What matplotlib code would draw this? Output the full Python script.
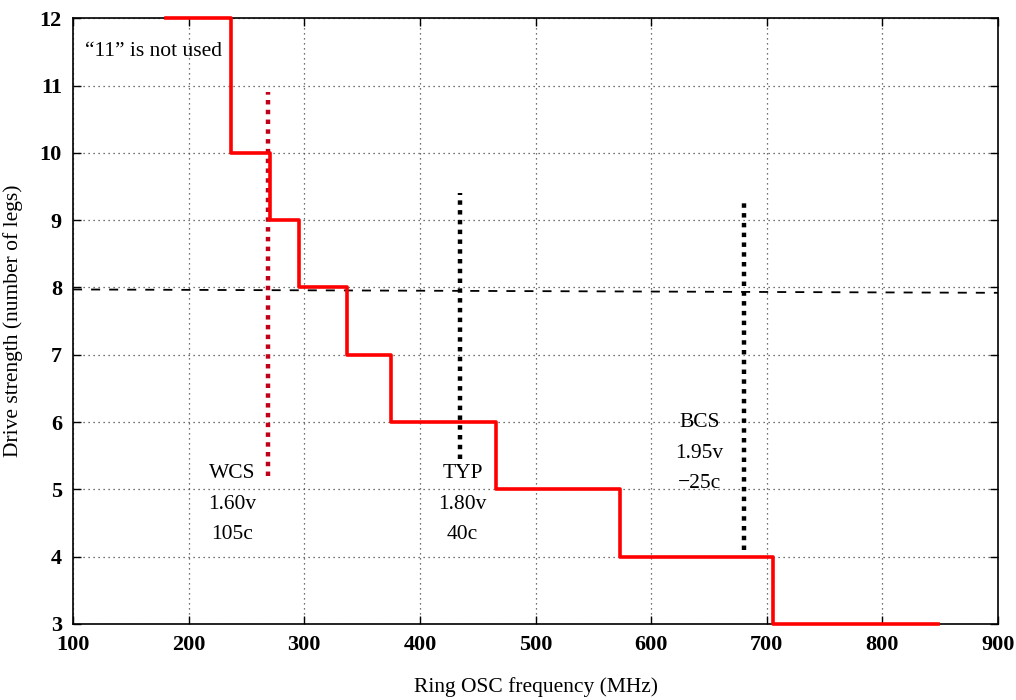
import matplotlib
matplotlib.use("Agg")
import matplotlib.pyplot as plt

# step curve: edges in MHz and drive strength for each interval
step_edges = [180, 237, 270, 295, 337, 375, 466, 573, 705, 848]
step_levels = [12, 10, 9, 8, 7, 6, 5, 4, 3]

# corner markers (x, y range)
wcs_x, wcs_y = 269, (5.2, 10.9)
typ_x, typ_y = 435, (5.45, 9.4)
bcs_x, bcs_y = 680, (4.1, 9.3)
ref_level = [7.97, 7.92]
ref_x = [100, 900]

xticks = list(range(100, 901, 100))
yticks = list(range(3, 13))

plt.rcParams['font.family'] = ['Liberation Serif', 'DejaVu Serif']

fig = plt.figure(figsize=(10.16, 7.0), dpi=100)
ax = fig.add_axes([0.0719, 0.1086, 0.9104, 0.8654])

ax.grid(True, linestyle=(0, (1, 3)), color='#444444', linewidth=0.9)

ax.plot(ref_x, ref_level, color='black', linestyle=(0, (5, 5)), linewidth=1.3)

ax.plot(step_edges, step_levels + [step_levels[-1]], drawstyle='steps-post',
        color='#ff0000', linewidth=2.6, zorder=3, clip_on=False)

ax.plot([wcs_x, wcs_x], wcs_y, color='#c0001a', linestyle=(0, (1, 1.2)), linewidth=3.2)
ax.plot([typ_x, typ_x], typ_y, color='black', linestyle=(0, (1, 1.2)), linewidth=3.2)
ax.plot([bcs_x, bcs_x], bcs_y, color='black', linestyle=(0, (1, 1.2)), linewidth=3.2)

fs = 15.5
ax.text(110, 11.5, u"\u201c11\u201d is not used", fontsize=fs, ha='left', va='center')
for xx, yy, lines in [(238, 5.23, ["WCS", "1.60v", "105c"]),
                      (437, 5.23, ["TYP", "1.80v", "40c"]),
                      (642, 5.99, ["BCS", "1.95v", "\u221225c"])]:
    for i, s in enumerate(lines):
        ax.text(xx, yy - i * 0.45, s, fontsize=fs, ha='center', va='center')

ax.set_xlim(100, 900)
ax.set_ylim(3, 12)
ax.set_xticks(xticks)
ax.set_yticks(yticks)
ax.tick_params(direction='in', length=6, width=1, top=True, right=True,
               labelsize=16, pad=8)
for lab in ax.get_xticklabels() + ax.get_yticklabels():
    lab.set_fontweight('bold')
for sp in ax.spines.values():
    sp.set_linewidth(1.2)

ax.set_xlabel("Ring OSC frequency (MHz)", fontsize=15.5, labelpad=16)
ax.set_ylabel("Drive strength (number of legs)", fontsize=15.5, labelpad=12)

fig.savefig("out.png", dpi=100)
